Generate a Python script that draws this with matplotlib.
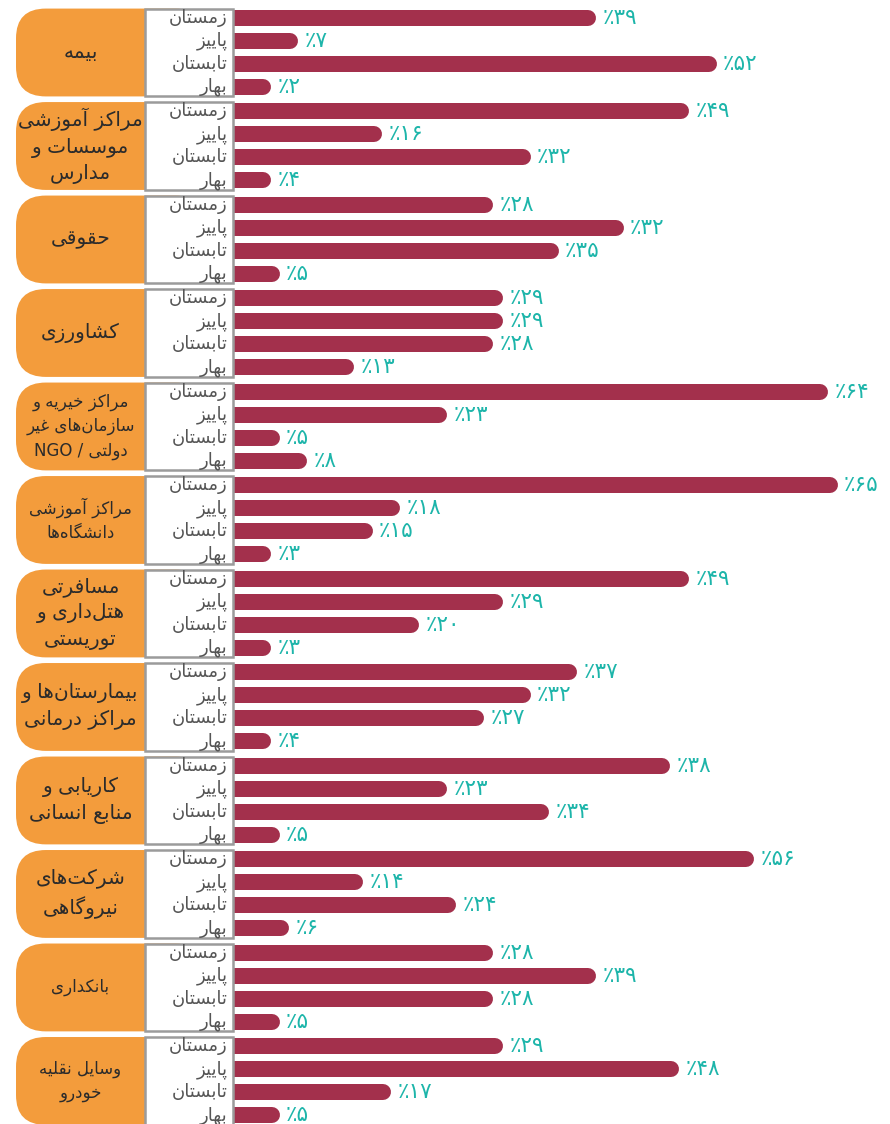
import re
import matplotlib.pyplot as plt
from matplotlib.patches import FancyBboxPatch, Rectangle

# ---- data ----
sectors = [
    ['بیمه'],
    ['مراکز آموزشی', 'موسسات و', 'مدارس'],
    ['حقوقی'],
    ['کشاورزی'],
    ['مراکز خیریه و', 'سازمان‌های غیر', 'دولتی / NGO'],
    ['مراکز آموزشی', 'دانشگاه‌ها'],
    ['مسافرتی', 'هتل‌داری و', 'توریستی'],
    ['بیمارستان‌ها و', 'مراکز درمانی'],
    ['کاریابی و', 'منابع انسانی'],
    ['شرکت‌های', 'نیروگاهی'],
    ['بانکداری'],
    ['وسایل نقلیه', 'خودرو'],
]
seasons = ['زمستان', 'پاییز', 'تابستان', 'بهار']

# printed percentages (winter, autumn, summer, spring)
share_pct = [
    [39, 7, 52, 2],
    [49, 16, 32, 4],
    [28, 32, 35, 5],
    [29, 29, 28, 13],
    [64, 23, 5, 8],
    [65, 18, 15, 3],
    [49, 29, 20, 3],
    [37, 32, 27, 4],
    [38, 23, 34, 5],
    [56, 14, 24, 6],
    [28, 39, 28, 5],
    [29, 48, 17, 5],
]
# bar lengths as drawn in the source (two bars disagree with their labels)
bar_pct = [
    [39, 7, 52, 2],
    [49, 16, 32, 4],
    [28, 42, 35, 5],
    [29, 29, 28, 13],
    [64, 23, 5, 8],
    [65, 18, 15, 3],
    [49, 29, 20, 3],
    [37, 32, 27, 4],
    [47, 23, 34, 5],
    [56, 14, 24, 6],
    [28, 39, 28, 5],
    [29, 48, 17, 5],
]
small_font_groups = {4, 5, 10, 11}

BAR = '#a3304c'
TEAL = '#1db5aa'
ORANGE = '#f39c3c'
FRAME = '#9b9b9b'


# ---- minimal Persian shaping (matplotlib has no complex text layout) ----
def _forms(start, n):
    return tuple(chr(start + k) for k in range(n))


FORMS = {
    'ا': _forms(0xFE8D, 2), 'آ': _forms(0xFE81, 2), 'ب': _forms(0xFE8F, 4),
    'پ': _forms(0xFB56, 4), 'ت': _forms(0xFE95, 4), 'ث': _forms(0xFE99, 4),
    'ج': _forms(0xFE9D, 4), 'چ': _forms(0xFB7A, 4), 'ح': _forms(0xFEA1, 4),
    'خ': _forms(0xFEA5, 4), 'د': _forms(0xFEA9, 2), 'ذ': _forms(0xFEAB, 2),
    'ر': _forms(0xFEAD, 2), 'ز': _forms(0xFEAF, 2), 'ژ': _forms(0xFB8A, 2),
    'س': _forms(0xFEB1, 4), 'ش': _forms(0xFEB5, 4), 'ص': _forms(0xFEB9, 4),
    'ض': _forms(0xFEBD, 4), 'ط': _forms(0xFEC1, 4), 'ظ': _forms(0xFEC5, 4),
    'ع': _forms(0xFEC9, 4), 'غ': _forms(0xFECD, 4), 'ف': _forms(0xFED1, 4),
    'ق': _forms(0xFED5, 4), 'ک': _forms(0xFB8E, 4), 'گ': _forms(0xFB92, 4),
    'ل': _forms(0xFEDD, 4), 'م': _forms(0xFEE1, 4), 'ن': _forms(0xFEE5, 4),
    'ه': _forms(0xFEE9, 4), 'و': _forms(0xFEED, 2), 'ی': _forms(0xFBFC, 4),
}


def fa(text):
    out = []
    for i, ch in enumerate(text):
        if ch == '\u200c':
            continue
        if ch not in FORMS:
            out.append(ch)
            continue
        prev = text[i - 1] if i > 0 else ''
        nxt = text[i + 1] if i + 1 < len(text) else ''
        join_prev = prev in FORMS and len(FORMS[prev]) == 4
        join_next = len(FORMS[ch]) == 4 and nxt in FORMS
        f = FORMS[ch]
        if join_prev and join_next:
            out.append(f[3])
        elif join_prev:
            out.append(f[1])
        elif join_next:
            out.append(f[2])
        else:
            out.append(f[0])
    vis = ''.join(out)[::-1]
    # keep latin runs left-to-right
    return re.sub(r'[A-Za-z0-9]+', lambda m: m.group()[::-1], vis)


def fa_pct(v):
    digits = ''.join(chr(0x06F0 + int(d)) for d in str(v))
    return '\u066a' + digits


# ---- layout ----
W, H = 890, 1124
px_x = 9.3           # pixels per percent
px_y = 23.0          # pixels per bar row
x0_px, y0_px = 233, 18
pitch = 4.065        # rows per group
half_box = 1.91
min_len = 4.1

fig = plt.figure(figsize=(W / 100, H / 100), dpi=100)
ax = fig.add_axes([0, 0, 1, 1])
ax.set_xlim(-x0_px / px_x, (W - x0_px) / px_x)
ax.set_ylim((H - y0_px) / px_y, -y0_px / px_y)
ax.axis('off')

lw_bar = 16 * 72 / 100
cap = 8 / px_x
orange_left = (16 - x0_px) / px_x
white_left = (145 - x0_px) / px_x

for g, (lines, vals, lens) in enumerate(zip(sectors, share_pct, bar_pct)):
    yc = g * pitch + 1.5
    # orange label box, rounded on the left
    ax.add_patch(FancyBboxPatch((orange_left, yc - half_box), -3 - orange_left, 2 * half_box,
                                boxstyle='round,pad=0,rounding_size=3.2',
                                mutation_aspect=px_x / px_y,
                                fc=ORANGE, ec='none', zorder=1))
    ax.add_patch(Rectangle((white_left, yc - half_box), -white_left, 2 * half_box,
                           fc='white', ec=FRAME, lw=1.8, zorder=3))
    fs = 12 if g in small_font_groups else 14.5
    ax.text((orange_left + white_left) / 2, yc, '\n'.join(fa(t) for t in lines),
            ha='center', va='center', multialignment='center', fontsize=fs,
            color='#2b2b2b', linespacing=1.45, zorder=4)

    for j in range(4):
        y = g * pitch + j
        end = max(lens[j], min_len)
        ax.plot([-2, end - cap], [y, y], color=BAR, lw=lw_bar,
                solid_capstyle='round', zorder=2)
        ax.text(-0.6, y, fa(seasons[j]), ha='right', va='center',
                fontsize=13, color='#555555', zorder=4)
        ax.text(end + 0.7, y, fa_pct(vals[j]), ha='left', va='center',
                fontsize=15.5, color=TEAL, zorder=4)

fig.savefig('out.png', dpi=100)
